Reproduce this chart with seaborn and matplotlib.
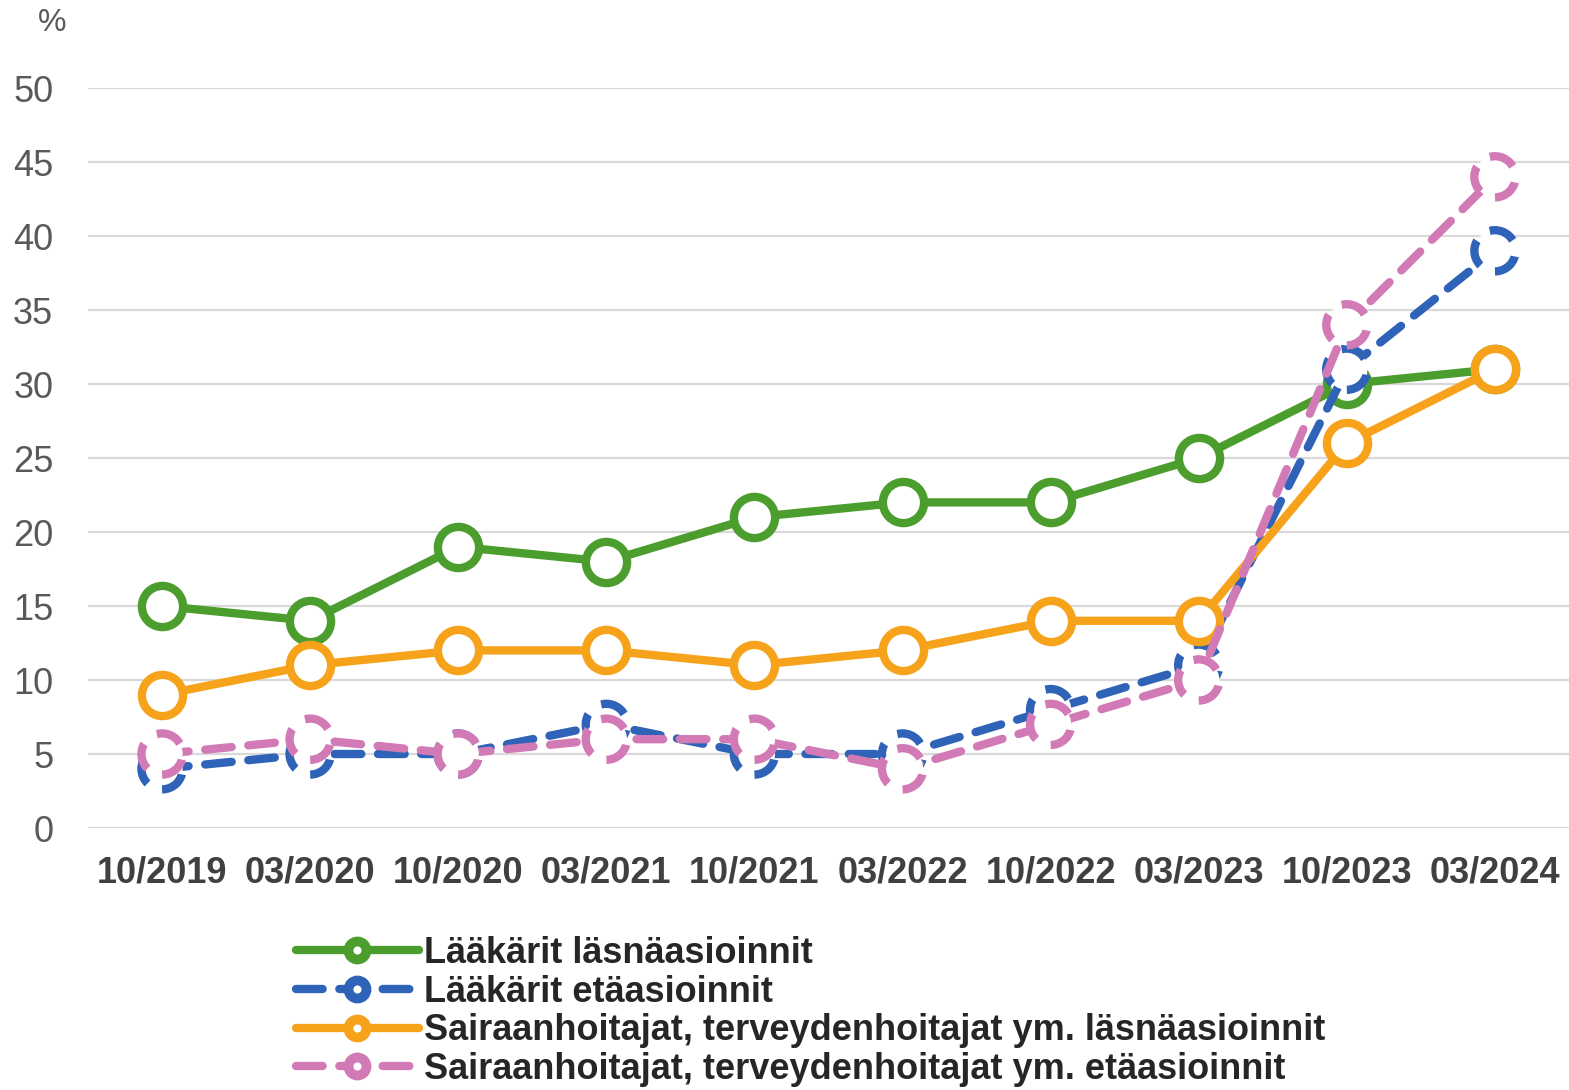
import matplotlib
matplotlib.use("Agg")
import matplotlib.pyplot as plt
import seaborn as sns
import pandas as pd
from matplotlib.lines import Line2D

periods = ["10/2019", "03/2020", "10/2020", "03/2021", "10/2021",
           "03/2022", "10/2022", "03/2023", "10/2023", "03/2024"]
laakarit_lasna = [15, 14, 19, 18, 21, 22, 22, 25, 30, 31]
laakarit_eta = [4, 5, 5, 7, 5, 5, 8, 11, 31, 39]
hoitajat_lasna = [9, 11, 12, 12, 11, 12, 14, 14, 26, 31]
hoitajat_eta = [5, 6, 5, 6, 6, 4, 7, 10, 34, 44]

series_names = ["Lääkärit läsnäasioinnit",
                "Lääkärit etäasioinnit",
                "Sairaanhoitajat, terveydenhoitajat ym. läsnäasioinnit",
                "Sairaanhoitajat, terveydenhoitajat ym. etäasioinnit"]
series_values = [laakarit_lasna, laakarit_eta, hoitajat_lasna, hoitajat_eta]
colors = ["#4b9e2d", "#2f63b8", "#f7a21b", "#d27ab6"]
dashed = [False, True, False, True]
yticks = [0, 5, 10, 15, 20, 25, 30, 35, 40, 45, 50]

sns.set_theme(style="white")
plt.rcParams["font.family"] = ["Liberation Sans", "DejaVu Sans"]

fig = plt.figure(figsize=(15.69, 10.90), dpi=100)
ax = fig.add_axes([88 / 1569, 1 - 828 / 1090, 1 - 88 / 1569, (828 - 88) / 1090])

lw = 6.0
dash = (0, (3.2, 2.0))
for i, (name, vals) in enumerate(zip(series_names, series_values)):
    df = pd.DataFrame({"x": list(range(len(periods))), "y": vals})
    ls = dash if dashed[i] else "-"
    sns.lineplot(data=df, x="x", y="y", ax=ax, color=colors[i], linewidth=lw,
                 linestyle=ls, zorder=3 + 2 * i, clip_on=False,
                 solid_capstyle="round", dash_capstyle="round", legend=False)
    sns.scatterplot(data=df, x="x", y="y", ax=ax, s=880, facecolor="white",
                    edgecolor=colors[i], linewidth=lw,
                    linestyle=ls if dashed[i] else "-",
                    zorder=4 + 2 * i, clip_on=False, legend=False)

ax.set_xlim(-0.5, 9.5)
ax.set_ylim(0, 50)
ax.set_yticks(yticks)
ax.set_xticks(range(len(periods)))
ax.set_xticklabels(periods, fontsize=26, fontweight="bold", color="#404040")
ax.set_yticklabels([str(v) for v in yticks], fontsize=26, color="#595959")
ax.tick_params(axis="y", length=0, pad=25)
ax.tick_params(axis="x", length=0, pad=20)
ax.set_xlabel("")
ax.set_ylabel("")
ax.grid(axis="y", color="#d9d9d9", linewidth=1.6, zorder=0)
ax.set_axisbelow(True)
for sp in ax.spines.values():
    sp.set_visible(False)

fig.text(52 / 1569, 1 - 23 / 1090, "%", fontsize=23, color="#595959",
         ha="center", va="center")

handles = []
for i in range(4):
    handles.append(Line2D([0], [0], color=colors[i], linewidth=lw,
                          linestyle=dash if dashed[i] else "-",
                          solid_capstyle="round", dash_capstyle="round",
                          marker="o", markersize=13, markerfacecolor="white",
                          markeredgecolor=colors[i], markeredgewidth=7))
fig.legend(handles, series_names, loc="upper left",
           bbox_to_anchor=(278 / 1569, 1 - 918 / 1090), frameon=False,
           borderpad=0, handlelength=3.4, handletextpad=0.15,
           labelspacing=0.1, prop={"size": 26, "weight": "bold"},
           labelcolor="#262626")

fig.savefig("out.png", dpi=100)
